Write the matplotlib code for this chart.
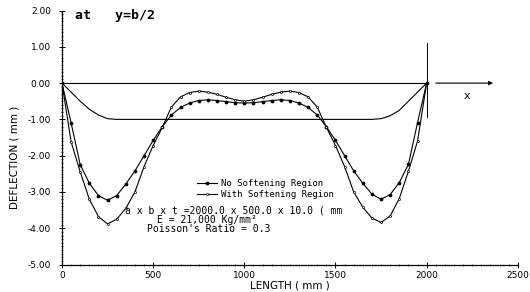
import matplotlib
matplotlib.use("Agg")
import matplotlib.pyplot as plt
from matplotlib.ticker import MultipleLocator, FormatStrFormatter

# ---- data ----
length_mm = [0, 50, 100, 150, 200, 250, 300, 350, 400, 450, 500, 550, 600, 650, 700,
             750, 800, 850, 900, 950, 1000, 1050, 1100, 1150, 1200, 1250, 1300, 1350,
             1400, 1450, 1500, 1550, 1600, 1650, 1700, 1750, 1800, 1850, 1900, 1950, 2000]

no_softening = [0.00, -1.10, -2.25, -2.76, -3.10, -3.23, -3.10, -2.78, -2.42, -2.00,
                -1.58, -1.20, -0.88, -0.67, -0.55, -0.48, -0.46, -0.48, -0.51, -0.54,
                -0.55, -0.54, -0.51, -0.48, -0.46, -0.48, -0.55, -0.67, -0.88, -1.20,
                -1.58, -2.00, -2.42, -2.76, -3.06, -3.20, -3.07, -2.74, -2.24, -1.09, 0.00]

with_softening = [0.00, -1.62, -2.45, -3.20, -3.68, -3.88, -3.75, -3.45, -3.00, -2.30,
                  -1.72, -1.22, -0.66, -0.38, -0.26, -0.22, -0.25, -0.31, -0.39, -0.46,
                  -0.50, -0.46, -0.39, -0.31, -0.25, -0.22, -0.26, -0.38, -0.66, -1.22,
                  -1.72, -2.30, -3.00, -3.42, -3.72, -3.84, -3.66, -3.18, -2.43, -1.60, 0.00]

ref_x = [0, 50, 100, 150, 200, 250, 300, 1700, 1750, 1800, 1850, 1900, 1950, 2000]
ref_y = [0.00, -0.25, -0.50, -0.72, -0.88, -0.98, -1.00, -1.00, -0.98, -0.90, -0.75,
         -0.50, -0.25, 0.00]

x_ticks = [0, 500, 1000, 1500, 2000, 2500]
y_ticks = [2, 1, 0, -1, -2, -3, -4, -5]

fs = 6.5
mono = "DejaVu Sans Mono"
fig = plt.figure(figsize=(5.30, 2.92), dpi=100)
ax = fig.add_axes([0.117, 0.094, 0.860, 0.870])

ax.plot(length_mm, no_softening, color="black", lw=0.8, marker="o", ms=1.7,
        mfc="black", mec="black", label="No Softening Region")
ax.plot(length_mm, with_softening, color="black", lw=0.8, marker="o", ms=1.5,
        mfc="white", mec="black", mew=0.5, label="With Softening Region")
ax.plot(ref_x, ref_y, color="black", lw=0.8)

# reference axes of the plate
ax.plot([0, 2000], [0, 0], color="black", lw=0.8)
ax.plot([2000, 2000], [-0.93, 1.10], color="black", lw=0.7)
ax.annotate("", xy=(2380, 0), xytext=(2035, 0),
            arrowprops=dict(arrowstyle="-|>", color="black", lw=0.8,
                            mutation_scale=6))
ax.text(2220, -0.36, "x", fontsize=8, family=mono, ha="center", va="center")

ax.set_xlim(0, 2500)
ax.set_ylim(-5, 2)
ax.set_xticks(x_ticks)
ax.set_yticks(y_ticks)
ax.yaxis.set_major_formatter(FormatStrFormatter("%.2f"))
ax.xaxis.set_minor_locator(MultipleLocator(50))
ax.yaxis.set_minor_locator(MultipleLocator(0.1))
ax.tick_params(which="major", direction="inout", length=4, width=0.7, labelsize=fs)
ax.tick_params(axis="y", which="major", pad=6)
ax.tick_params(axis="x", which="major", pad=3)
ax.tick_params(which="minor", direction="inout", length=2, width=0.5)
for s in ["top", "right"]:
    ax.spines[s].set_visible(False)
for s in ["left", "bottom"]:
    ax.spines[s].set_linewidth(0.9)

ax.set_xlabel("LENGTH ( mm )", fontsize=7.5, labelpad=0)
ax.set_ylabel("DEFLECTION ( mm )", fontsize=7.5)
ax.yaxis.set_label_coords(-0.093, 0.42)

ax.text(71, 1.86, "at   y=b/2", fontsize=9.5, family=mono, fontweight="bold",
        ha="left", va="center")

leg = ax.legend(loc="upper left", bbox_to_anchor=(0.282, 0.36), frameon=False,
                prop={"family": mono, "size": 6.5}, handlelength=2.2,
                handletextpad=0.5, labelspacing=0.15, borderpad=0.2)

ax.text(345, -3.50, "a x b x t =2000.0 x 500.0 x 10.0 ( mm", fontsize=7,
        family=mono, ha="left", va="center")
ax.text(520, -3.78, "E = 21,000 Kg/mm\u00b2", fontsize=7, family=mono,
        ha="left", va="center")
ax.text(465, -4.03, "Poisson's Ratio = 0.3", fontsize=7, family=mono,
        ha="left", va="center")

fig.savefig("out.png", dpi=100)
